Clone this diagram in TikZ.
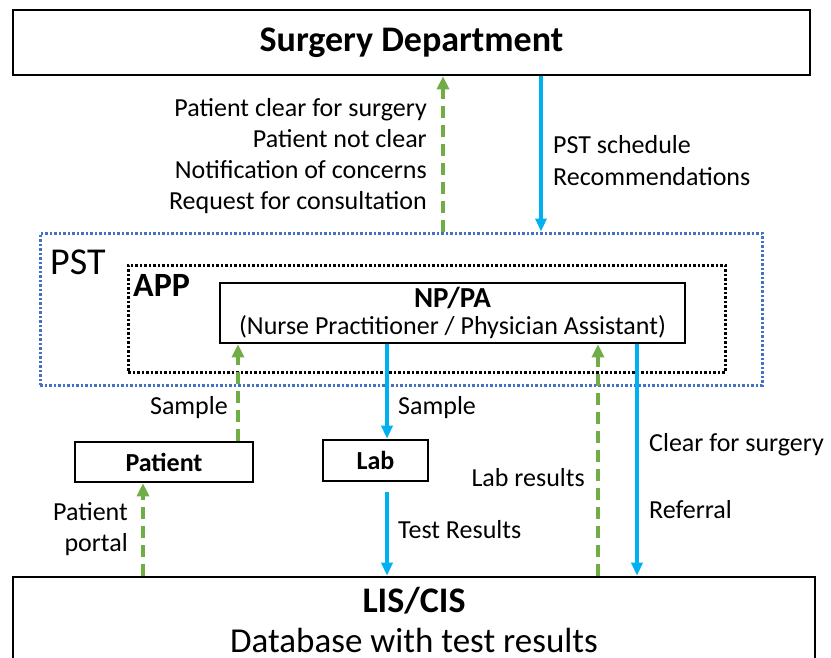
\documentclass[tikz,border=0pt]{standalone}
\usepackage{fontspec}
\setmainfont{Carlito}
\usetikzlibrary{arrows.meta,positioning,calc}
\definecolor{okgreen}{RGB}{112,173,71}
\definecolor{flowblue}{RGB}{0,176,240}
\definecolor{pstblue}{RGB}{68,114,196}
\newcommand{\fs}[1]{\fontsize{#1}{1.2\dimexpr#1pt\relax}\selectfont}

\begin{document}
\begin{tikzpicture}[x=1pt,y=-1pt,
 box/.style={draw,line width=2.6pt,inner sep=0pt,align=center},
 lbl/.style={font=\fs{26},inner sep=0pt,align=left},
 flow/.style={-{Triangle[length=13pt,width=11pt]},draw=flowblue,line width=3.5pt},
 back/.style={-{Triangle[length=13pt,width=12pt]},draw=okgreen,line width=4pt,dash pattern=on 12pt off 7pt},
 group/.style={draw,line width=3pt,dash pattern=on 2.5pt off 2pt,inner sep=0pt}]
\clip (0,0) rectangle (831,657);
\node[box,minimum width=797pt,minimum height=65pt,font=\fs{36}\bfseries] (surg) at (411.5,42.5) {Surgery Department};
\node[group,draw=pstblue,minimum width=722pt,minimum height=152pt] (pst) at (401,309) {};
\node[group,minimum width=597pt,minimum height=107pt] (app) at (426.5,318.5) {};
\node[font=\fs{38},anchor=west,inner sep=0pt] (pstlabel) at (50,262) {PST};
\node[font=\fs{34}\bfseries,anchor=west,inner sep=0pt] (applabel) at (133,285) {APP};
\node[box,fill=white,minimum width=465pt,minimum height=60pt,font=\fs{26}] (nppa) at (452.5,313) {\fs{29}\bfseries NP/PA\\[-5pt]\fs{26}(Nurse Practitioner / Physician Assistant)};
\node[box,minimum width=178pt,minimum height=40pt,font=\fs{26}\bfseries] (pat) at (164,462) {Patient};
\node[box,minimum width=105pt,minimum height=41pt,font=\fs{26}\bfseries] (lab) at (375.5,460.5) {Lab};
\node[box,minimum width=802pt,minimum height=86pt,font=\fs{36}] (lis) at (414,620) {\bfseries LIS/CIS\\[-4pt]\fs{35}Database with test results};
% surgery department <-> PST
\draw[back] (pst.north -| 443,0) -- (surg.south -| 443,0);
\draw[flow] (surg.south -| 541,0) -- (pst.north -| 541,0);
\node[lbl,anchor=east,align=right] (toSurg) at (427,156) {Patient clear for surgery\\Patient not clear\\Notification of concerns\\Request for consultation};
\node[lbl,anchor=west] (toPst) at (553,160.5) {PST schedule\\Recommendations};
% sample flow
\draw[back] (pat.north -| 238,0) -- (nppa.south -| 238,0);
\draw[flow] (nppa.south -| 387,0) -- (lab.north -| 387,0);
\draw[flow,shorten <=10pt] (lab.south -| 387,0) -- (lis.north -| 387,0);
\node[lbl,anchor=east] (smpl1) at (228,408) {Sample};
\node[lbl,anchor=west] (smpl2) at (398,408) {Sample};
\node[lbl,anchor=west] (testres) at (398,530) {Test Results};
% results
\draw[back] (lis.north -| 143,0) -- (pat.south -| 143,0);
\node[lbl,anchor=east,align=right] (portal) at (128,529) {Patient\\portal};
\draw[back] (lis.north -| 598,0) -- (nppa.south -| 598,0);
\node[lbl,anchor=east] (labres) at (585,478) {Lab results};
\draw[flow] (nppa.south -| 637,0) -- (lis.north -| 637,0);
\node[lbl,anchor=west] (clear) at (649,445) {Clear for surgery};
\node[lbl,anchor=west] (referral) at (649,510) {Referral};
\end{tikzpicture}
\end{document}
